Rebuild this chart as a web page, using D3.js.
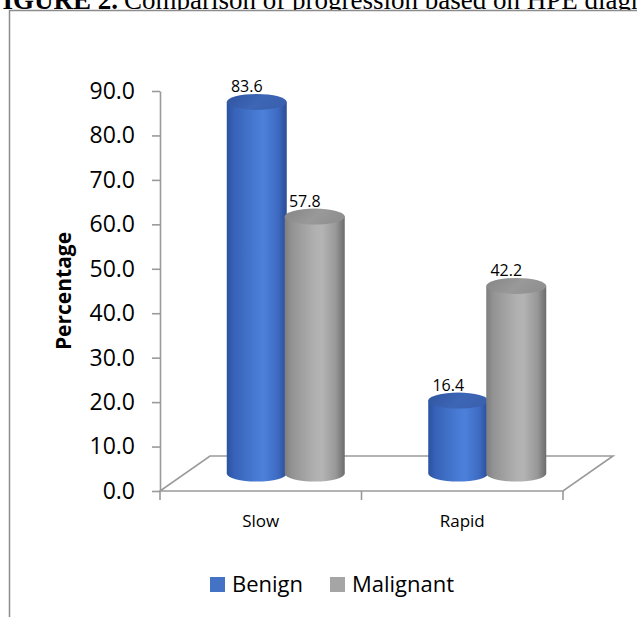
<!DOCTYPE html>
<html>
<head>
<meta charset="utf-8">
<script src="https://cdn.jsdelivr.net/npm/d3@7/dist/d3.min.js"></script>
<style>
  html, body { margin: 0; padding: 0; background: #fff; overflow: hidden; }
  svg { display: block; }
</style>
</head>
<body>
<svg id="chart" width="637" height="617"></svg>
<script>
// Progression by diagnosis (HPE), percentages per group
const categories = ["Slow", "Rapid"];
const seriesNames = ["Benign", "Malignant"];
const benign = [83.6, 16.4];
const malignant = [57.8, 42.2];
const yTicks = [0, 10, 20, 30, 40, 50, 60, 70, 80, 90];

const seriesValues = [benign, malignant];
const seriesColors = { Benign: "#4472C4", Malignant: "#A5A5A5" };

const svg = d3.select("#chart");
const chartFont = "'Open Sans', 'Liberation Sans', sans-serif";

// caption line above the chart frame
const caption = svg.append("g").attr("font-family", "'Liberation Serif', 'Times New Roman', serif")
  .attr("font-size", 27).attr("fill", "#000");
caption.append("text").attr("x", 118).attr("y", 9).attr("text-anchor", "end")
  .attr("font-weight", "bold").text("FIGURE 2.");
caption.append("text").attr("x", 124).attr("y", 9)
  .text("Comparison of progression based on HPE diagnosis");

// chart frame (covers caption descenders)
svg.append("rect").attr("x", 9.5).attr("y", 10.5).attr("width", 700).attr("height", 700)
  .attr("fill", "#fff").attr("stroke", "#8c8c8c").attr("stroke-width", 1.5);

// scales: front plane of the 3D box, plus depth offset
const y = d3.scaleLinear().domain([0, 90]).range([491, 91]);
const x = d3.scaleBand().domain(categories).range([160, 563]);
const xs = d3.scaleBand().domain(seriesNames).range([-58, 58]);
const depth = { dx: 50, dy: -35 };
const mid = 0.5;

// floor
const fx0 = x.range()[0], fx1 = x.range()[1], fy = y(0);
svg.append("path")
  .attr("d", `M${fx0},${fy} L${fx1},${fy} L${fx1 + depth.dx},${fy + depth.dy} L${fx0 + depth.dx},${fy + depth.dy} Z`)
  .attr("fill", "none").attr("stroke", "#9a9a9a").attr("stroke-width", 1.6);

// y axis
const yAxis = svg.append("g").attr("transform", `translate(${fx0},0)`)
  .call(d3.axisLeft(y).tickValues(yTicks).tickFormat(d3.format(".1f"))
    .tickSize(8).tickSizeOuter(0).tickPadding(17));
yAxis.select(".domain").attr("stroke", "#9a9a9a").attr("stroke-width", 1.6);
yAxis.selectAll(".tick line").attr("stroke", "#9a9a9a").attr("stroke-width", 1.6);
yAxis.selectAll(".tick text").attr("font-family", chartFont).attr("font-size", 23)
  .attr("fill", "#000");

// y axis title
svg.append("text")
  .attr("transform", `translate(71,${(y(0) + y(90)) / 2}) rotate(-90)`)
  .attr("text-anchor", "middle").attr("font-family", chartFont).attr("font-weight", "bold")
  .attr("font-size", 21).attr("fill", "#000").text("Percentage");

// category axis: tick marks at band boundaries, labels at band centres
const catG = svg.append("g");
const bounds = categories.map(c => x(c)).concat([fx1]);
catG.selectAll("line").data(bounds).join("line")
  .attr("x1", d => d).attr("x2", d => d).attr("y1", fy).attr("y2", fy + 9)
  .attr("stroke", "#9a9a9a").attr("stroke-width", 1.6);
catG.selectAll("text").data(categories).join("text")
  .attr("x", d => x(d) + x.bandwidth() / 2).attr("y", 527)
  .attr("text-anchor", "middle").attr("font-family", chartFont).attr("font-size", 17)
  .attr("fill", "#000").text(d => d);

// gradients for the cylinder shading
const defs = svg.append("defs");
const bodyStops = {
  Benign: [[0, "#2c52a0"], [0.12, "#3762b8"], [0.5, "#487bd4"], [0.62, "#4c80da"], [0.85, "#3e6bc2"], [1, "#2a4c95"]],
  Malignant: [[0, "#7e7e7e"], [0.12, "#939393"], [0.5, "#b0b0b0"], [0.62, "#b4b4b4"], [0.85, "#989898"], [1, "#6c6c6c"]]
};
const topStops = {
  Benign: [[0, "#30549f"], [0.6, "#3d66b6"], [1, "#3a61ae"]],
  Malignant: [[0, "#858585"], [0.6, "#999999"], [1, "#909090"]]
};
seriesNames.forEach(s => {
  const g1 = defs.append("linearGradient").attr("id", "body-" + s)
    .attr("x1", 0).attr("x2", 1).attr("y1", 0).attr("y2", 0);
  bodyStops[s].forEach(([o, c]) => g1.append("stop").attr("offset", o).attr("stop-color", c));
  const g2 = defs.append("linearGradient").attr("id", "top-" + s)
    .attr("x1", 0).attr("x2", 1).attr("y1", 0).attr("y2", 0.3);
  topStops[s].forEach(([o, c]) => g2.append("stop").attr("offset", o).attr("stop-color", c));
});

// cylinders
const rx = 30, ry = 8;
const bars = [];
categories.forEach((c, ci) => {
  seriesNames.forEach((s, si) => {
    bars.push({ category: c, series: s, value: seriesValues[si][ci] });
  });
});
const cx = d => x(d.category) + x.bandwidth() / 2 + xs(d.series) + xs.bandwidth() / 2 + depth.dx * mid;
const topY = d => y(d.value) + depth.dy * mid;
const baseY = () => y(0) + depth.dy * mid;

const barG = svg.append("g");
const cyl = barG.selectAll("g.cyl").data(bars).join("g").attr("class", "cyl");
cyl.append("path")
  .attr("d", d => {
    const c = cx(d), t = topY(d), b = baseY();
    return `M${c - rx},${t} L${c - rx},${b} A${rx},${ry} 0 0 0 ${c + rx},${b} L${c + rx},${t} Z`;
  })
  .attr("fill", d => `url(#body-${d.series})`);
cyl.append("ellipse")
  .attr("cx", d => cx(d)).attr("cy", d => topY(d))
  .attr("rx", rx).attr("ry", ry)
  .attr("fill", d => `url(#top-${d.series})`);

// value labels
svg.append("g").selectAll("text").data(bars).join("text")
  .attr("x", d => cx(d) - 10).attr("y", d => topY(d) - ry - 1.5)
  .attr("text-anchor", "middle").attr("font-family", chartFont).attr("font-size", 16)
  .attr("fill", "#000").text(d => d3.format(".1f")(d.value));

// legend
const legendX = [210, 330];
const leg = svg.append("g").selectAll("g").data(seriesNames).join("g")
  .attr("transform", (d, i) => `translate(${legendX[i]},577)`);
leg.append("rect").attr("width", 15).attr("height", 15).attr("fill", d => seriesColors[d]);
leg.append("text").attr("x", 22).attr("y", 15).attr("font-family", chartFont)
  .attr("font-size", 22).attr("fill", "#000").text(d => d);
</script>
</body>
</html>
